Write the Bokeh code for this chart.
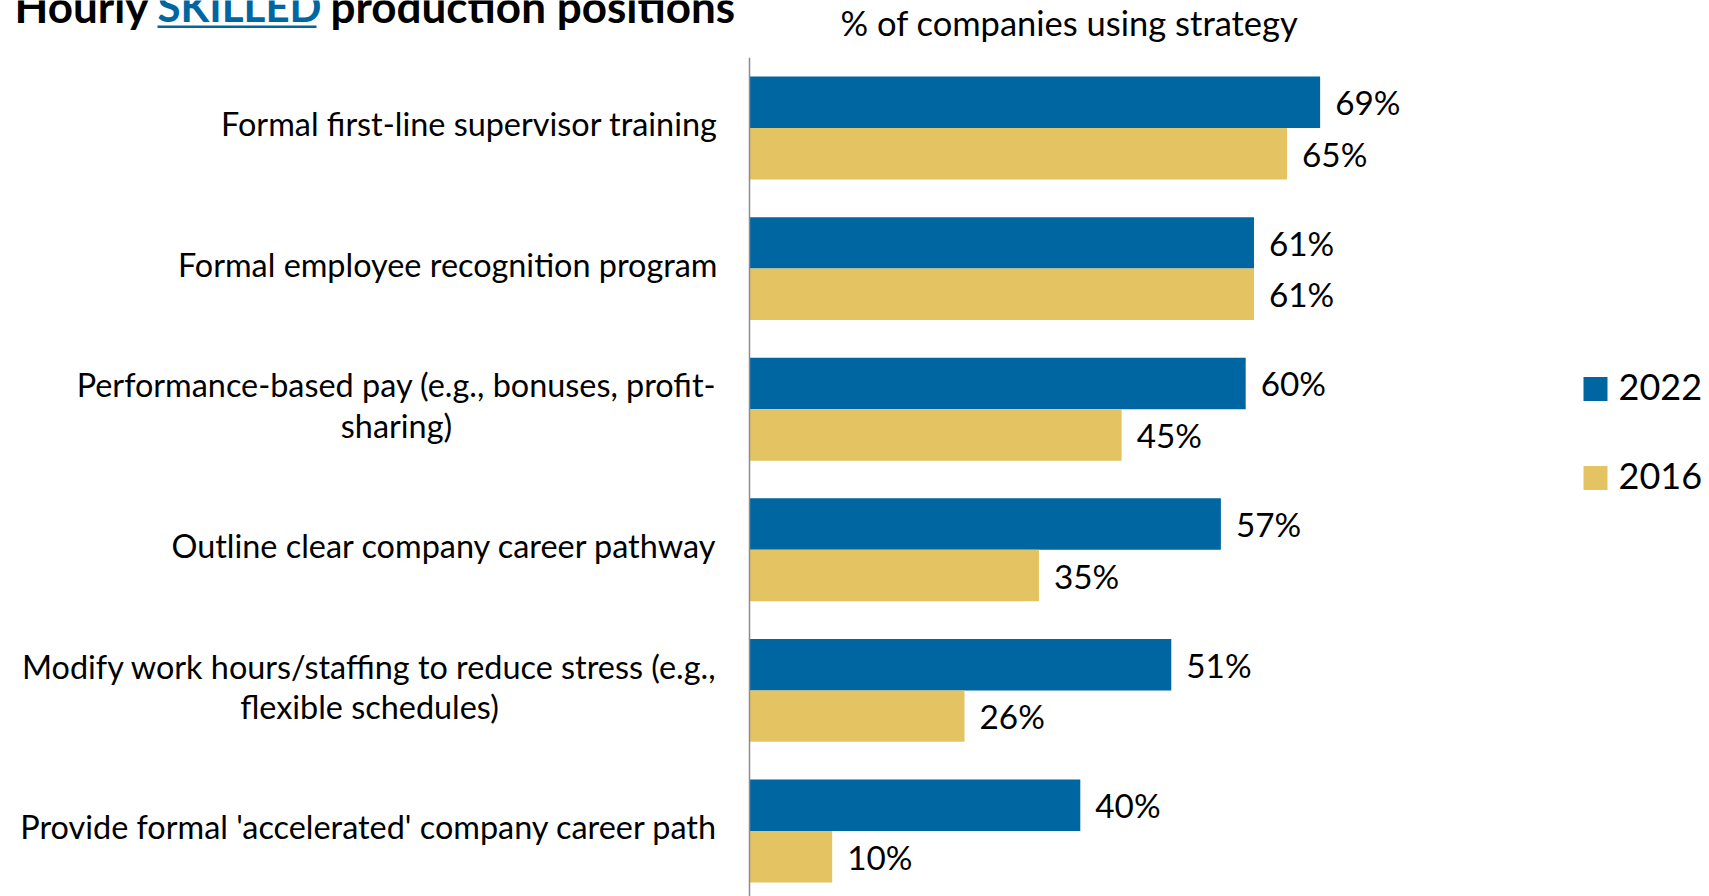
from bokeh.plotting import figure
from bokeh.models import Range1d
from bokeh.core.properties import value
from bokeh.embed import file_html
from bokeh.resources import INLINE

# ---------------- data ----------------
categories = [
    "Formal first-line supervisor training",
    "Formal employee recognition program",
    "Performance-based pay (e.g., bonuses, profit-\nsharing)",
    "Outline clear company career pathway",
    "Modify work hours/staffing to reduce stress (e.g.,\nflexible schedules)",
    "Provide formal 'accelerated' company career path",
]
series_names = ["2022", "2016"]
values_2022 = [69, 61, 60, 57, 51, 40]
values_2016 = [65, 61, 45, 35, 26, 10]
title_parts = ["Hourly", "SKILLED", "production positions"]
axis_title = "% of companies using strategy"

# ---------------- layout / style ----------------
W, H = 1709, 896
AXIS_PX = 749          # canvas x of the value axis (0 %)
PX_PER_PCT = 8.27      # pixels per percentage point
GROUP_PX = 140.6       # pixels between category centres
FIRST_CY = 127.5       # canvas y of first category centre
BAR_H = 0.366          # bar thickness in category units
BLUE = "#0066A2"
GOLD = "#E4C462"
FONT = "Lato"
LABEL_SIZE = "32.4px"
VALUE_SIZE = "33.3px"

def cx(px):
    return (px - AXIS_PX) / PX_PER_PCT

def cy(py):
    return (py - FIRST_CY) / GROUP_PX

p = figure(width=W, height=H, output_backend="svg", toolbar_location=None,
           x_range=Range1d(cx(0), cx(W)), y_range=Range1d(cy(H), cy(0)),
           min_border=0, outline_line_color=None)
p.axis.visible = False
p.grid.visible = False
p.background_fill_color = "white"
p.border_fill_color = "white"

n = len(categories)
idx = list(range(n))
y22 = [i - BAR_H / 2 for i in idx]
y16 = [i + BAR_H / 2 for i in idx]

p.hbar(y=y22, left=0, right=values_2022, height=BAR_H, fill_color=BLUE, line_color=None)
p.hbar(y=y16, left=0, right=values_2016, height=BAR_H, fill_color=GOLD, line_color=None)

# axis line
p.segment(x0=[0], y0=[-0.5], x1=[0], y1=[cy(H)], line_color="#8C8C8C", line_width=1.5)

# value labels
p.text(x=values_2022, y=y22, text=[f"{v}%" for v in values_2022], x_offset=15,
       text_baseline="middle", text_align="left", text_font=value(FONT),
       text_font_size=VALUE_SIZE, text_color="black")
p.text(x=values_2016, y=y16, text=[f"{v}%" for v in values_2016], x_offset=15,
       text_baseline="middle", text_align="left", text_font=value(FONT),
       text_font_size=VALUE_SIZE, text_color="black")

# category labels
single = [(i, c) for i, c in enumerate(categories) if "\n" not in c]
multi = [(i, c) for i, c in enumerate(categories) if "\n" in c]
p.text(x=[0] * len(single), y=[i for i, _ in single], text=[c for _, c in single],
       x_offset=-32, y_offset=-4.5, text_align="right", text_baseline="middle",
       text_font=value(FONT), text_font_size=LABEL_SIZE, text_color="black")
multi_center_offset = {2: -353, 4: -380}
for i, c in multi:
    p.text(x=[0], y=[i], text=[c], x_offset=multi_center_offset[i], y_offset=-4,
           text_align="center", text_baseline="middle", text_line_height=1.04,
           text_font=value(FONT), text_font_size=LABEL_SIZE, text_color="black")

# axis title
p.text(x=[cx(1069)], y=[cy(22)], text=[axis_title], text_align="center",
       text_baseline="middle", text_font=value(FONT), text_font_size="34.5px",
       text_color="black")

# title (cropped at the top as in the original)
TITLE_Y = cy(5)
p.text(x=[cx(14)], y=[TITLE_Y], text=[title_parts[0]], text_align="left",
       text_baseline="alphabetic", text_font=value(FONT), text_font_style="bold",
       text_font_size="44px", text_color="black")
p.text(x=[cx(157)], y=[TITLE_Y], text=[title_parts[1]], text_align="left",
       text_baseline="alphabetic", text_font=value(FONT), text_font_style="bold",
       text_font_size="42px", text_color=BLUE)
p.text(x=[cx(330)], y=[TITLE_Y], text=[title_parts[2]], text_align="left",
       text_baseline="alphabetic", text_font=value(FONT), text_font_style="bold",
       text_font_size="44px", text_color="black")
p.quad(left=[cx(157)], right=[cx(316)], top=[cy(25)], bottom=[cy(27.5)],
       fill_color=BLUE, line_color=None)

# legend
leg_y = [cy(388.5), cy(477.5)]
p.rect(x=[cx(1595)] * 2, y=leg_y, width=24, height=24, width_units="screen",
       height_units="screen", fill_color=[BLUE, GOLD], line_color=None)
p.text(x=[cx(1618)] * 2, y=leg_y, text=series_names, y_offset=-2, text_align="left",
       text_baseline="middle", text_font=value(FONT), text_font_size="36px",
       text_color="black")

open("out.html", "w").write(file_html(p, INLINE))
